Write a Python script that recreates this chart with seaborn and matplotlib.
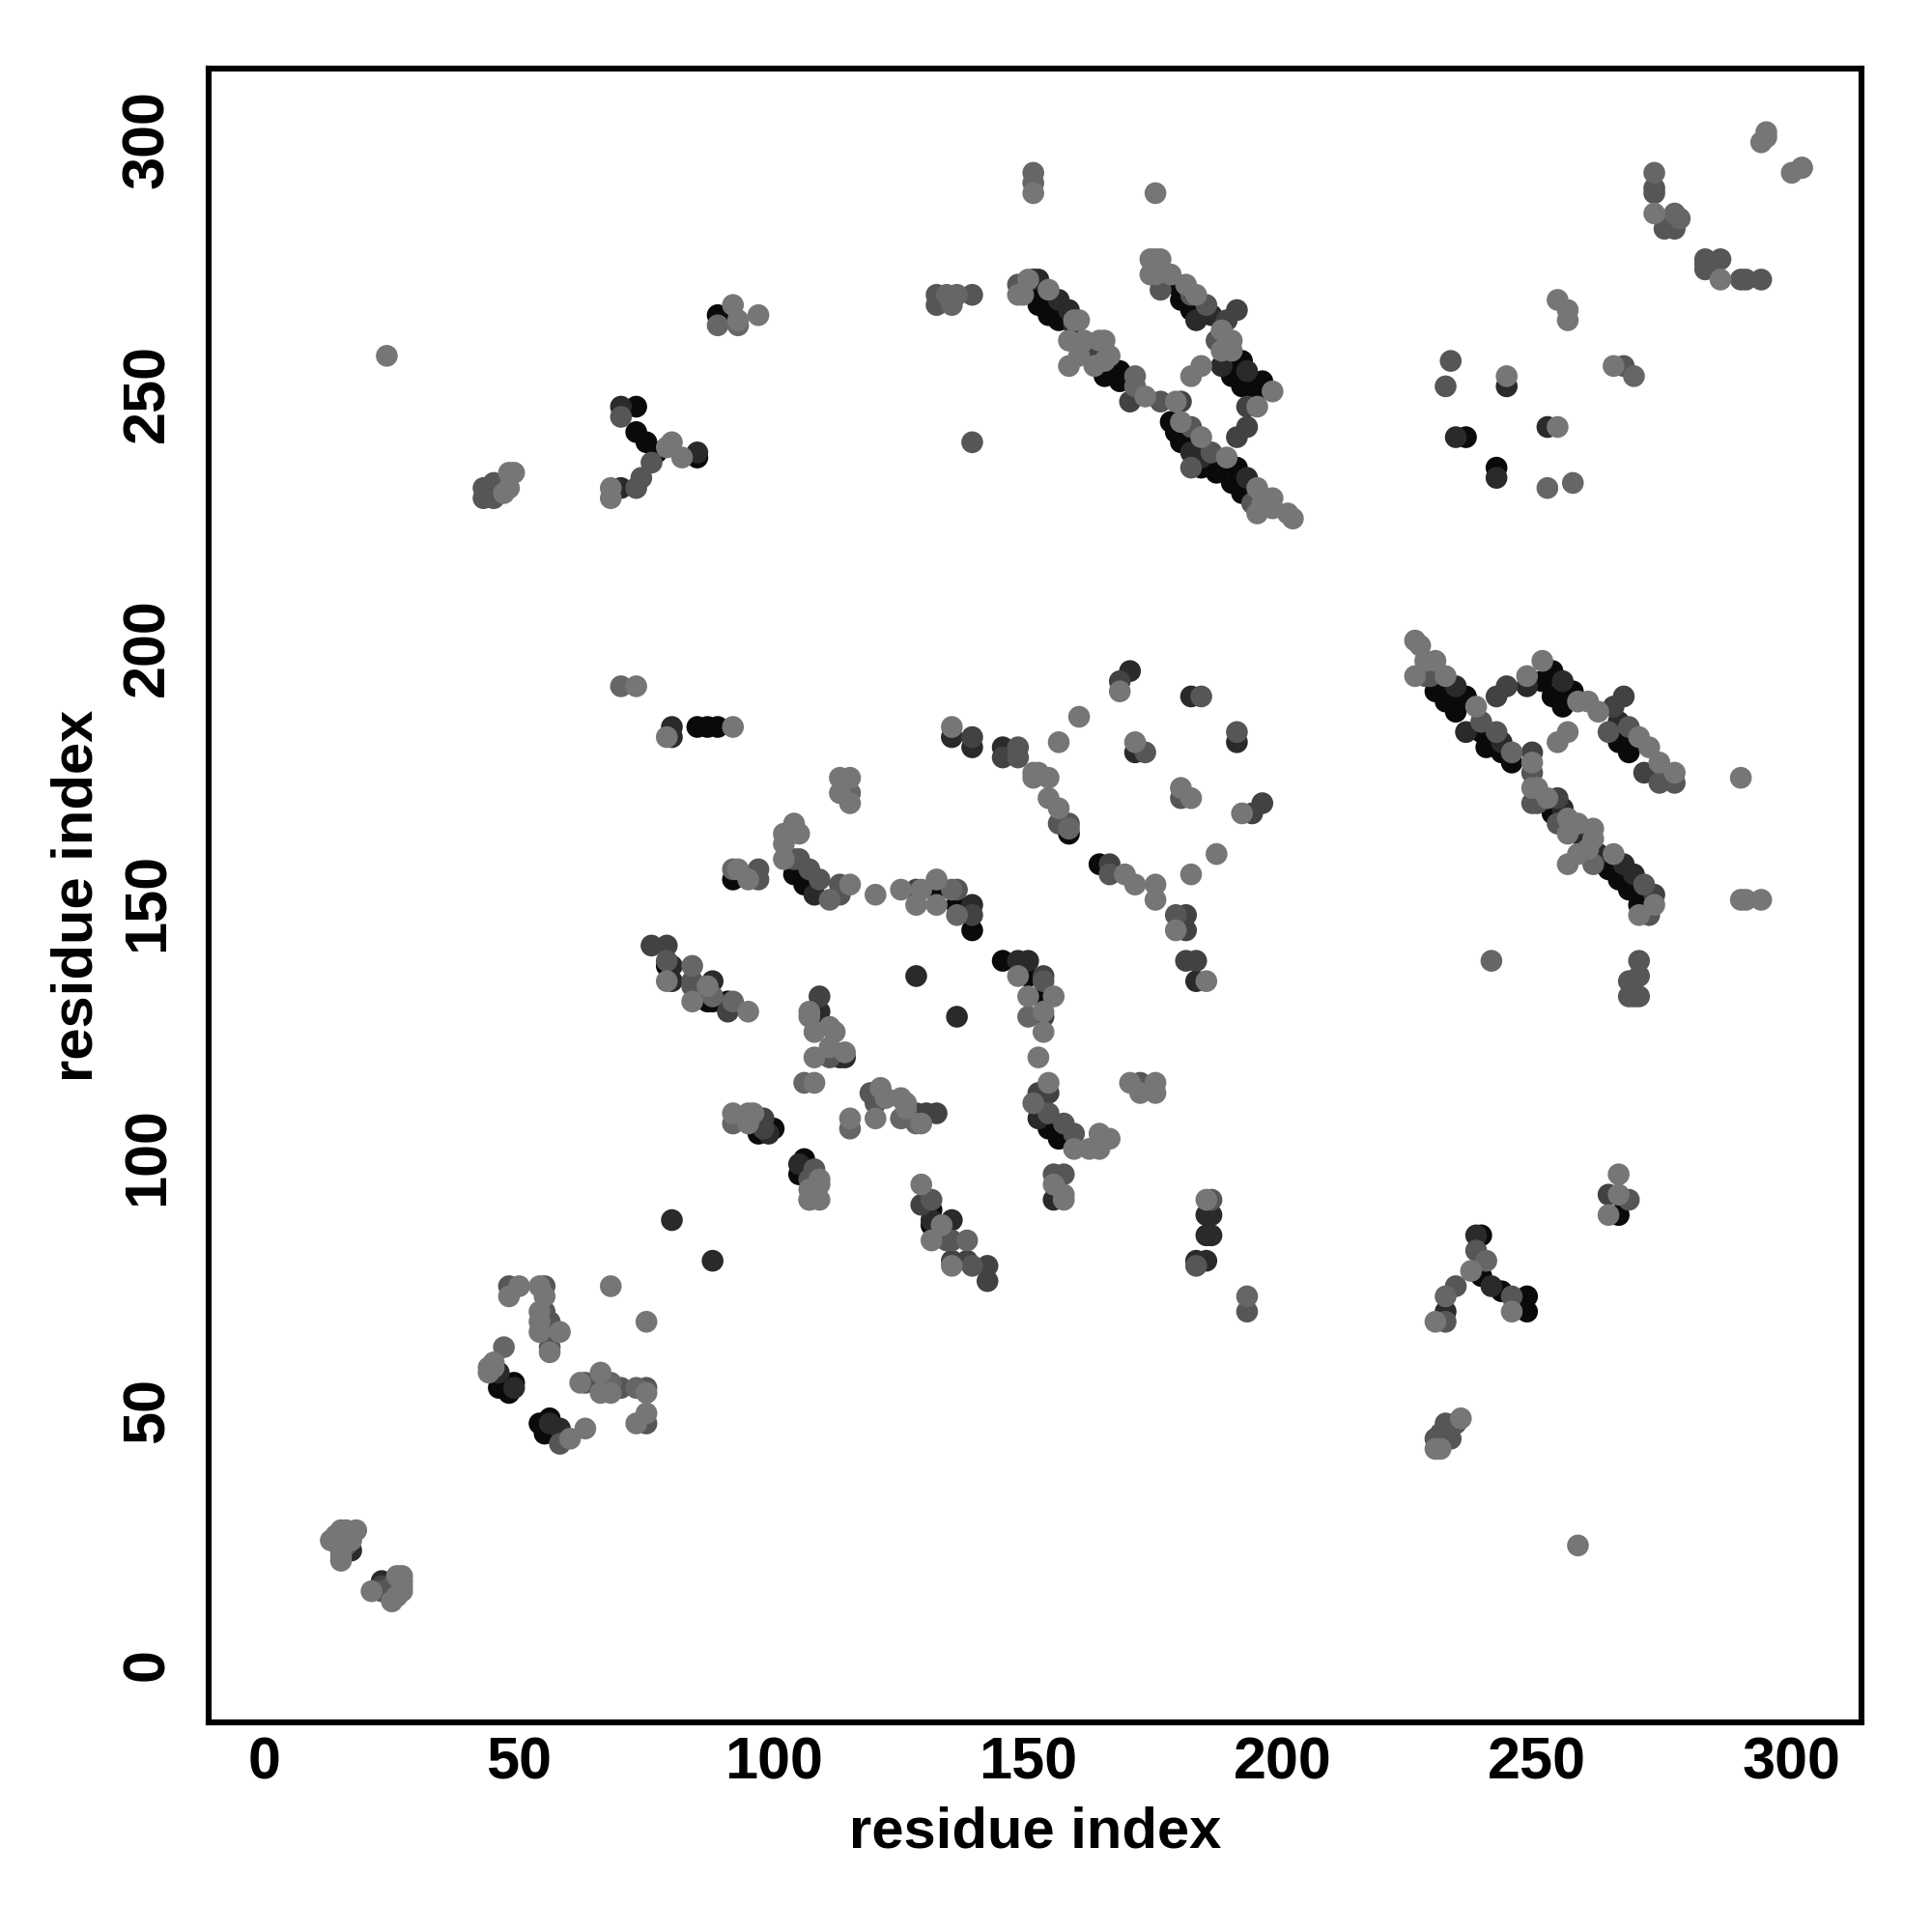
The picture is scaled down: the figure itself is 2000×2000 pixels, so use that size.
# Residue contact map, shaded by contact strength
import pandas as pd
import matplotlib
matplotlib.use('Agg')
import matplotlib.pyplot as plt
from matplotlib.transforms import ScaledTranslation
import seaborn as sns

# contacts (x, y) grouped by shade, darkest first
black_pts = [(49,56),(46,55),(48,54),(54,48),(56,49),(55,46),(131,90),(131,87),(106,100),(105,97),(97,105),(100,106),
    (87,131),(88,131),(91,131),(79,138),(92,155),(104,156),(106,154),(132,153),(136,150),(139,145),(145,139),(150,136),
    (153,132),(154,106),(156,104),(158,164),(164,158),(85,185),(87,185),(89,185),(89,266),(73,248),(73,243),(75,241),
    (77,239),(85,238),(151,273),(151,271),(152,268),(154,266),(156,265),(165,254),(168,255),(168,253),(179,272),(180,269),
    (182,267),(192,257),(190,254),(192,252),(196,253),(195,251),(178,245),(179,243),(180,241),(184,236),(186,238),(187,235),
    (191,236),(190,233),(192,231),(230,192),(232,190),(236,191),(234,188),(239,184),(240,181),(243,180),(245,178),(253,196),
    (251,194),(253,191),(257,192),(255,189),(266,182),(268,180),(253,168),(264,157),(266,155),(268,153),(270,150),(272,151),
    (239,85),(239,77),(243,74),(248,73),(248,70),(236,242),(242,236),(266,89)]
dark_pts = [(17,23),(23,17),(46,58),(49,55),(56,48),(58,47),(80,88),(88,80),(131,88),(135,88),(105,99),(99,105),
    (113,120),(114,120),(109,129),(80,138),(80,135),(88,135),(108,152),(139,150),(148,139),(150,139),(128,136),(136,128),
    (152,108),(155,92),(139,181),(145,181),(135,183),(171,180),(80,183),(80,185),(70,232),(70,248),(85,239),(152,273),
    (156,269),(158,267),(159,264),(183,265),(186,266),(188,256),(193,255),(182,239),(184,238),(193,234),(234,193),(236,184),
    (243,182),(248,193),(255,194),(266,186),(255,169),(258,164),(262,160),(267,158),(269,156),(170,196),(182,191),(191,182),
    (183,135),(185,89),(186,89),(185,85),(186,85),(183,80),(185,80),(238,85),(232,70),(241,75),(234,242),(242,234),(244,252),(252,244)]
middark_pts = [(23,16),(98,108),(98,106),(109,132),(132,109),(129,91),(135,80),(138,80),(142,79),(142,76),(76,142),(79,142),
    (91,129),(153,136),(153,128),(139,148),(128,153),(128,109),(130,109),(152,113),(154,113),(166,158),(168,194),(194,168),
    (196,170),(181,148),(181,145),(181,139),(183,139),(264,93),(163,258),(170,249),(180,249),(191,267),(189,265),(193,248),
    (193,244),(191,242),(242,191),(244,193),(265,189),(267,191),(271,176),(249,180),(254,171),(273,152),(139,183),(145,179)]
mid_pts = [(15,23),(15,24),(16,24),(23,15),(25,15),(25,16),(48,75),(55,75),(55,70),(56,68),(56,63),(63,56),
    (67,55),(70,55),(75,55),(75,48),(58,44),(131,92),(134,84),(135,84),(139,79),(108,98),(107,96),(119,113),
    (120,111),(112,121),(111,120),(79,139),(84,135),(84,134),(104,159),(105,159),(107,157),(109,155),(113,154),(113,152),
    (97,157),(97,155),(136,153),(153,135),(159,105),(155,97),(157,97),(154,109),(157,107),(172,115),(156,166),(158,166),
    (148,181),(148,179),(173,180),(166,156),(43,230),(43,232),(45,233),(46,231),(45,230),(73,232),(70,246),(76,237),
    (74,234),(139,241),(132,270),(132,268),(139,270),(148,272),(176,271),(182,270),(185,268),(187,261),(176,249),(182,244),
    (182,236),(186,239),(194,229),(228,195),(229,195),(239,186),(242,184),(264,184),(268,185),(274,174),(277,174),(249,176),
    (249,170),(250,170),(254,166),(271,154),(272,148),(270,139),(268,135),(270,136),(268,132),(269,132),(270,132),(191,184),
    (184,191),(180,171),(179,148),(186,92),(183,79),(193,70),(268,92),(238,82),(234,75),(232,68),(245,73),(230,45),
    (231,46),(232,48),(234,48),(233,45),(231,45),(273,291),(273,290),(277,283),(275,283),(283,277),(286,277),(283,276),
    (283,275),(290,273),(291,273),(294,273),(302,295),(233,257),(232,252),(267,256)]
midlight_pts = [(47,63),(73,55),(68,56),(84,138),(92,107),(138,84),(115,106),(115,172),(107,92),(88,132),(92,131),(92,157),
    (111,151),(135,153),(125,108),(128,107),(136,148),(150,128),(151,111),(106,115),(158,165),(70,193),(89,264),(93,264),
    (151,294),(151,292),(135,268),(136,270),(134,270),(171,254),(171,252),(261,158),(241,139),(193,73),(240,80),(232,73),
    (278,285),(273,294),(277,286),(252,232),(257,233),(269,254),(245,180)]
light_pts = [(13,25),(14,26),(15,27),(15,25),(16,27),(17,26),(18,27),(17,25),(15,22),(15,21),(21,15),(27,18),
    (26,18),(27,17),(27,16),(27,15),(26,14),(25,13),(50,75),(48,73),(54,75),(55,73),(68,75),(75,68),
    (54,70),(54,68),(54,66),(58,66),(56,62),(45,60),(44,59),(44,58),(45,59),(62,56),(66,58),(66,54),
    (68,54),(75,54),(75,50),(73,48),(60,45),(63,47),(129,95),(133,87),(131,84),(135,79),(109,96),(107,92),
    (109,92),(107,94),(109,95),(92,109),(95,109),(96,109),(95,107),(115,108),(120,108),(121,114),(122,112),(125,112),
    (126,110),(126,111),(129,107),(107,129),(107,128),(108,125),(111,126),(112,125),(111,122),(114,121),(108,120),(108,115),
    (79,135),(84,131),(87,134),(95,129),(93,157),(95,155),(104,166),(102,164),(105,164),(102,162),(102,159),(115,154),
    (120,152),(125,153),(129,153),(128,150),(132,155),(132,150),(148,136),(150,132),(155,132),(153,129),(153,125),(152,120),
    (154,115),(159,102),(162,102),(164,105),(164,102),(166,104),(155,95),(157,93),(157,92),(170,115),(172,113),(175,115),
    (175,113),(113,175),(115,175),(113,172),(115,170),(154,171),(156,169),(151,176),(152,176),(154,175),(151,175),(135,185),
    (156,182),(171,182),(169,156),(171,154),(175,154),(175,151),(79,183),(92,185),(73,193),(92,268),(93,265),(97,266),
    (24,258),(258,24),(48,235),(49,235),(48,232),(47,231),(68,232),(68,230),(80,241),(79,240),(82,238),(151,290),
    (175,290),(148,270),(149,270),(150,273),(154,271),(160,265),(159,265),(158,261),(161,261),(160,258),(158,256),(164,261),
    (165,261),(166,258),(163,256),(165,257),(173,250),(179,249),(174,277),(175,277),(176,277),(174,274),(175,274),(178,274),
    (181,272),(183,270),(188,263),(190,261),(188,259),(190,259),(198,251),(195,248),(182,254),(184,256),(180,245),(184,242),
    (189,238),(195,232),(195,227),(198,230),(196,229),(198,228),(201,227),(202,226),(226,202),(227,201),(226,195),(228,198),
    (230,198),(232,195),(238,189),(248,195),(251,198),(258,190),(260,190),(262,188),(270,183),(272,181),(274,178),(277,176),
    (254,182),(256,184),(249,178),(249,173),(250,173),(252,171),(256,167),(258,166),(261,165),(256,164),(261,163),(256,158),
    (258,160),(260,161),(265,160),(270,148),(273,150),(290,175),(290,151),(291,151),(294,151),(160,187),(168,192),(180,173),
    (182,171),(192,168),(187,160),(182,156),(179,145),(185,135),(185,92),(266,97),(266,93),(264,89),(237,78),(230,68),
    (245,70),(230,43),(231,43),(235,49),(273,286),(286,273),(294,300),(295,302),(295,301),(300,294),(302,295),(244,254),
    (254,244),(254,269),(256,267),(256,265),(265,256)]

shade_names = ['black', 'dark', 'middark', 'mid', 'midlight', 'light']
shade_colors = ['#0a0a0a', '#2a2a2a', '#424242', '#565656', '#666666', '#767676']
tick_values = [0, 50, 100, 150, 200, 250, 300]

frames = []
for name, pts in zip(shade_names, [black_pts, dark_pts, middark_pts, mid_pts, midlight_pts, light_pts]):
    part = pd.DataFrame(pts, columns=['x', 'y'])
    part['shade'] = name
    frames.append(part)
df = pd.concat(frames, ignore_index=True)

sns.set_theme(style='white')
plt.rcParams['font.family'] = ['Liberation Sans', 'DejaVu Sans']
plt.rcParams['font.weight'] = 'bold'

fig = plt.figure(figsize=(10, 10), dpi=200)
ax = fig.add_axes([0.108, 0.1085, 0.8555, 0.856])
sns.scatterplot(data=df, x='x', y='y', hue='shade', hue_order=shade_names,
                palette=dict(zip(shade_names, shade_colors)), s=66, linewidth=0,
                legend=False, ax=ax)

ax.set_xlim(-11, 313.7)
ax.set_ylim(-10.8, 314.5)
ax.set_xticks(tick_values)
ax.set_yticks(tick_values)
ax.tick_params(axis='both', length=3.5, width=1.2, color='black', labelsize=22, labelcolor='black')
ax.tick_params(axis='x', pad=1.7)
ax.tick_params(axis='y', pad=8.6)
nudge = ScaledTranslation(0, 1.1 / 72, fig.dpi_scale_trans)
for label in ax.get_yticklabels():
    label.set_rotation(90)
    label.set_va('center')
    label.set_transform(label.get_transform() + nudge)
ax.set_xlabel('residue index', fontsize=21.5, fontweight='bold', color='black', labelpad=5.4)
ax.set_ylabel('residue index', fontsize=21.5, fontweight='bold', color='black', labelpad=6.4)
for spine in ax.spines.values():
    spine.set_linewidth(2.2)
    spine.set_color('black')

fig.savefig('out.png', dpi=200)
plt.close()
